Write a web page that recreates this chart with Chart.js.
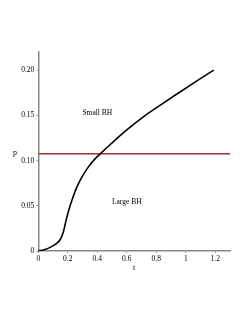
<!DOCTYPE html>
<html><head><meta charset="utf-8">
<script src="https://cdn.jsdelivr.net/npm/chart.js@4/dist/chart.umd.min.js"></script>
<style>html,body{margin:0;padding:0;background:#fff}#w{width:249px;height:323px}</style>
</head><body><div id="w"><canvas id="c"></canvas></div>
<script>
const tVals = [0, 0.04, 0.08, 0.12, 0.15, 0.17, 0.19, 0.21, 0.23, 0.26, 0.30, 0.34, 0.38, 0.42, 0.49, 0.59, 0.71, 0.83, 0.94, 1.06, 1.19];
const pVals = [0, 0.0015, 0.004, 0.008, 0.013, 0.021, 0.035, 0.047, 0.057, 0.070, 0.083, 0.093, 0.101, 0.1074, 0.118, 0.1325, 0.148, 0.1615, 0.1736, 0.1865, 0.200];
const lineT = [0, 1.3];
const lineP = [0.1074, 0.1074];
const xTicks = [0, 0.2, 0.4, 0.6, 0.8, 1, 1.2];
const yTicks = [0, 0.05, 0.10, 0.15, 0.20];
const yTickLabels = ["0", "0.05", "0.10", "0.15", "0.20"];
const xTickLabels = ["0", "0.2", "0.4", "0.6", "0.8", "1", "1.2"];
const regionLabels = [{text: "Small BH", t: 0.4, p: 0.153}, {text: "Large BH", t: 0.6, p: 0.054}];
const xTitle = "t", yTitle = "p";

const FONT = "'Liberation Serif', 'DejaVu Serif', serif";
const textPlugin = {
  id: 'texts',
  afterDraw(chart) {
    const ctx = chart.ctx, xs = chart.scales.x, ys = chart.scales.y;
    ctx.save();
    ctx.fillStyle = '#000';
    ctx.font = "7.5px " + FONT;
    ctx.textAlign = 'center'; ctx.textBaseline = 'middle';
    regionLabels.forEach(l => ctx.fillText(l.text, xs.getPixelForValue(l.t), ys.getPixelForValue(l.p)));
    ctx.font = "8px " + FONT;
    ctx.fillText(yTitle, 15, ys.getPixelForValue(0.1074) - 1);
    ctx.fillText(xTitle, (xs.left + xs.right) / 2, 268);
    ctx.restore();
  }
};

new Chart(document.getElementById('c'), {
  type: 'line',
  data: {
    datasets: [
      {data: tVals.map((t, i) => ({x: t, y: pVals[i]})), borderColor: '#000', borderWidth: 1.6, pointRadius: 0, cubicInterpolationMode: 'monotone', fill: false},
      {data: lineT.map((t, i) => ({x: t, y: lineP[i]})), borderColor: '#a0303c', borderWidth: 1.5, pointRadius: 0, fill: false}
    ]
  },
  options: {
    responsive: true, maintainAspectRatio: false, animation: false,
    plugins: {legend: {display: false}, tooltip: {enabled: false}},
    layout: {padding: {top: 52, right: 19, left: 0, bottom: 0}},
    scales: {
      x: {
        type: 'linear', min: 0, max: 1.3,
        afterBuildTicks: s => { s.ticks = xTicks.map(v => ({value: v})); },
        afterFit: s => { s.height = 72; },
        ticks: {font: {family: FONT, size: 7.5}, color: '#000', padding: 2, maxRotation: 0,
          callback: (v, i) => xTickLabels[i]},
        grid: {drawOnChartArea: false, drawTicks: true, tickLength: 2, color: '#999'},
        border: {color: '#888', width: 1.5}
      },
      y: {
        type: 'linear', min: 0, max: 0.22,
        afterBuildTicks: s => { s.ticks = yTicks.map(v => ({value: v})); },
        afterFit: s => { s.width = 38.3; },
        ticks: {font: {family: FONT, size: 7.5}, color: '#000', padding: 2,
          callback: (v, i) => yTickLabels[i]},
        grid: {drawOnChartArea: false, drawTicks: true, tickLength: 2, color: '#999'},
        border: {color: '#888', width: 1.5}
      }
    }
  },
  plugins: [textPlugin]
});
</script>
</body></html>
